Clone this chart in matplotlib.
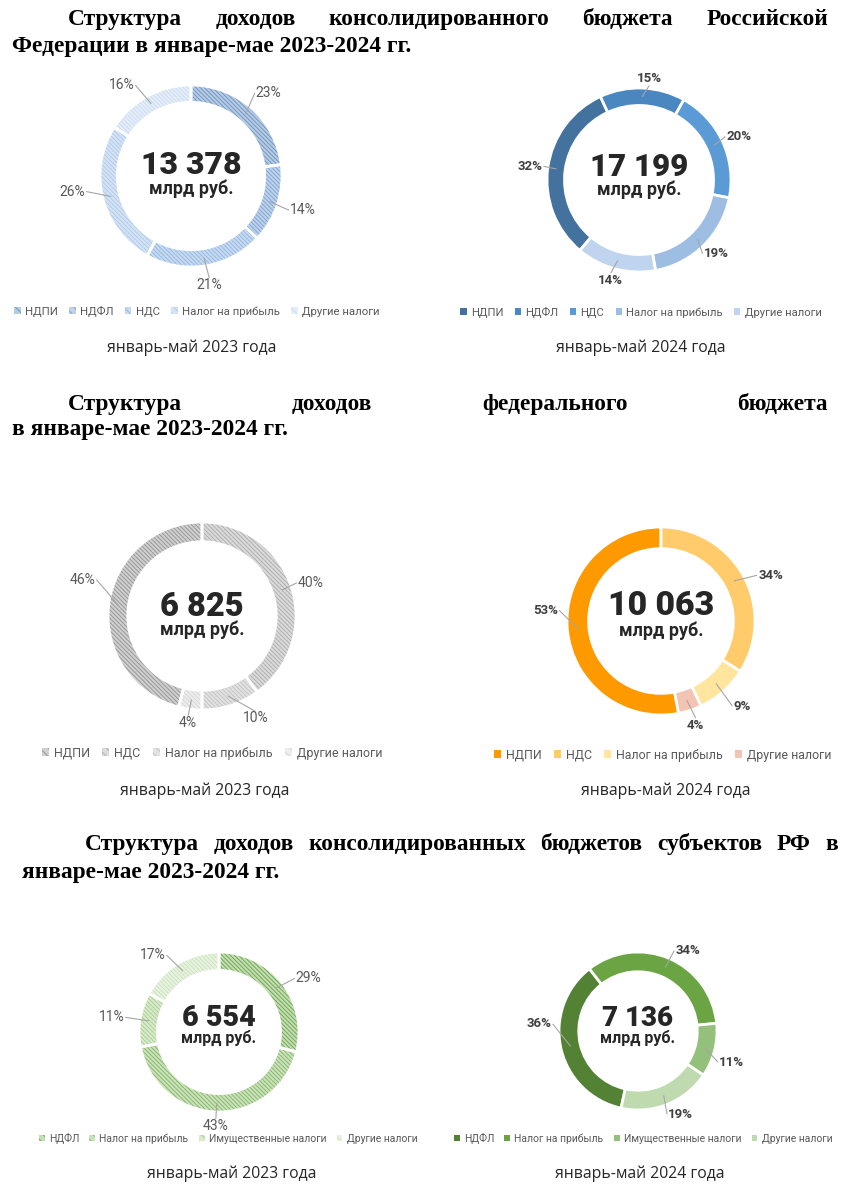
import matplotlib
matplotlib.use('Agg')
import matplotlib.pyplot as plt
from matplotlib.patches import Patch
import numpy as np

W, H = 848, 1200

# ---------------- data ----------------
legend_cons = ['НДПИ', 'НДФЛ', 'НДС', 'Налог на прибыль', 'Другие налоги']
cons_2023 = [23, 14, 21, 26, 16]
cons_2024 = [32, 15, 20, 19, 14]
total_cons_2023 = '13 378'
total_cons_2024 = '17 199'

legend_fed = ['НДПИ', 'НДС', 'Налог на прибыль', 'Другие налоги']
fed_2023 = [46, 40, 10, 4]
fed_2024 = [53, 34, 9, 4]
total_fed_2023 = '6 825'
total_fed_2024 = '10 063'

legend_reg = ['НДФЛ', 'Налог на прибыль', 'Имущественные налоги', 'Другие налоги']
reg_2023 = [29, 43, 11, 17]
reg_2024 = [36, 34, 11, 19]
total_reg_2023 = '6 554'
total_reg_2024 = '7 136'

unit_text = 'млрд руб.'
period_2023 = 'январь-май 2023 года'
period_2024 = 'январь-май 2024 года'

title1_l1 = 'Структура доходов консолидированного бюджета Российской'
title1_l2 = 'Федерации в январе-мае 2023-2024 гг.'
title2_l1 = 'Структура доходов федерального бюджета'
title2_l2 = 'в январе-мае 2023-2024 гг.'
title3_l1 = 'Структура доходов консолидированных бюджетов субъектов РФ в'
title3_l2 = 'январе-мае 2023-2024 гг.'

# ---------------- styles ----------------
plt.rcParams['hatch.linewidth'] = 0.6
plt.rcParams['font.family'] = ['Roboto', 'DejaVu Sans']

HATCH = '\\' * 8

blue_hatch_face = ['#b7cbe3', '#bfd2ea', '#c8daf0', '#d5e3f4', '#e4edf8']
blue_hatch_line = ['#6790c0', '#77a1d2', '#8db5e2', '#abc8ea', '#c9dbf0']
blue_solid = ['#44729e', '#4a86bf', '#5b9bd5', '#9dbde2', '#bfd4ee']

gray_hatch_face = ['#d0d0d0', '#dadada', '#e2e2e2', '#ededed']
gray_hatch_line = ['#909090', '#aaaaaa', '#c0c0c0', '#d5d5d5']
orange_solid = ['#ff9900', '#ffcb6b', '#ffe59d', '#f3c3b3']

green_hatch_face = ['#c4ddb3', '#cbe1bc', '#d9eacd', '#e8f2e1']
green_hatch_line = ['#66a348', '#7db560', '#a5cd8d', '#c9e1b9']
green_solid = ['#548235', '#6aa443', '#93c07a', '#c0dab0']

# label nudges in pixels (style only): chart id -> {slice index: (dx, dy)}
label_nudge = {
    'c23': {3: (-5, -12), 4: (-13, 6)},
    'c24': {1: (6, 2)},
    'f23': {0: (-6, -23), 2: (18, 0)},
    'f24': {0: (0, -21), 1: (8, 7), 2: (7, 3)},
    'r23': {0: (10, 4), 2: (-8, 0), 3: (-15, 4)},
    'r24': {0: (-5, -27), 1: (12, 2), 2: (0, 9), 3: (7, 0)},
}

fig = plt.figure(figsize=(W / 100, H / 100), dpi=100)
fig.patch.set_facecolor('white')


def fx(x):
    return x / W


def fy(y):
    return 1 - y / H


def justified(words_line, x0, x1, yb, fs):
    words = words_line.split(' ')
    texts = [fig.text(0, fy(yb), w, fontsize=fs, fontweight='bold',
                      family='Liberation Serif', va='baseline', ha='left',
                      color='#000000') for w in words]
    r = fig.canvas.get_renderer()
    widths = [t.get_window_extent(r).width for t in texts]
    gap = (x1 - x0 - sum(widths)) / (len(words) - 1)
    x = x0
    for t, w in zip(texts, widths):
        t.set_x(fx(x))
        x += w + gap


def plain(line, x0, yb, fs):
    fig.text(fx(x0), fy(yb), line, fontsize=fs, fontweight='bold',
             family='Liberation Serif', va='baseline', ha='left', color='#000000')


TFS = 16.8
justified(title1_l1, 68, 828, 25, TFS)
plain(title1_l2, 12, 52, TFS)
justified(title2_l1, 68, 828, 410, TFS)
plain(title2_l2, 12, 435, TFS)
justified(title3_l1, 85, 838, 850, TFS)
plain(title3_l2, 22, 878, TFS)


def donut(key, cx, cy, R, values, faces, hatch_lines, startangle, width, total,
          total_fs, unit_fs, total_y, unit_y, bold_labels, anchor_r):
    k = 1.6
    ax = fig.add_axes([fx(cx - R * k), fy(cy + R * k), 2 * R * k / W, 2 * R * k / H])
    if hatch_lines is not None:
        wedges, _ = ax.pie(values, colors=faces, startangle=startangle, counterclock=False,
                           radius=1, wedgeprops=dict(width=width, linewidth=0))
        for w, hc in zip(wedges, hatch_lines):
            w.set_edgecolor(hc)
            w.set_hatch(HATCH)
            w.set_linewidth(0)
        ax.pie(values, colors=['none'] * len(values), startangle=startangle,
               counterclock=False, radius=1,
               wedgeprops=dict(width=width, linewidth=2, edgecolor='white', fill=False))
    else:
        wedges, _ = ax.pie(values, colors=faces, startangle=startangle, counterclock=False,
                           radius=1, wedgeprops=dict(width=width, linewidth=2,
                                                     edgecolor='white'))
    ax.set_xlim(-k, k)
    ax.set_ylim(-k, k)
    ax.axis('off')
    rmid = 1 - width / 2
    fs = 9.5 if bold_labels else 10
    nud = label_nudge.get(key, {})
    for i, (w, v) in enumerate(zip(wedges, values)):
        a = np.deg2rad((w.theta1 + w.theta2) / 2)
        c, s = np.cos(a), np.sin(a)
        lw_px = 7.8 * len(str(v)) + 10
        lh_px = 12
        # label center in pixels relative to center (y up)
        lx = anchor_r * R * c + c * lw_px / 2
        ly = anchor_r * R * s + s * lh_px / 2
        dx, dy = nud.get(i, (0, 0))
        lx += dx
        ly -= dy
        # leader end: edge of label box facing the ring
        if abs(c) > 0.35:
            ex, ey = lx - np.sign(c) * (lw_px / 2 + 1), ly
        else:
            ex, ey = lx, ly - np.sign(s) * (lh_px / 2 + 1)
        ax.plot([rmid * c, ex / R], [rmid * s, ey / R], color='#a6a6a6', lw=0.8,
                solid_capstyle='butt')
        ax.text(lx / R, ly / R, f'{v}%', ha='center', va='center', fontsize=fs,
                fontweight='bold' if bold_labels else 'normal',
                color='#404040' if bold_labels else '#595959')
    fig.text(fx(cx), fy(total_y), total, ha='center', va='center', fontsize=total_fs,
             fontweight='black', color='#262626')
    fig.text(fx(cx), fy(unit_y), unit_text, ha='center', va='center', fontsize=unit_fs,
             fontweight='bold', color='#262626')


def legend(cx, cy, labels, faces, hatch_lines, fs):
    handles = []
    for i, lab in enumerate(labels):
        if hatch_lines is not None:
            handles.append(Patch(facecolor=faces[i], edgecolor=hatch_lines[i],
                                 hatch='\\\\\\\\', linewidth=0, label=lab))
        else:
            handles.append(Patch(facecolor=faces[i], linewidth=0, label=lab))
    fig.legend(handles=handles, loc='center', bbox_to_anchor=(fx(cx), fy(cy)),
               ncol=len(labels), frameon=False, fontsize=fs, handlelength=0.55,
               handleheight=0.55, handletextpad=0.4, columnspacing=1.0,
               labelcolor='#595959', borderpad=0, borderaxespad=0)


def caption(cx, cy, txt):
    fig.text(fx(cx), fy(cy), txt, ha='center', va='center', fontsize=11.3,
             family=['Open Sans', 'DejaVu Sans'], color='#262626')


# Section 1
donut('c23', 191, 176, 91, cons_2023, blue_hatch_face, blue_hatch_line, 90, 0.19,
      total_cons_2023, 23, 13, 165, 189, False, 1.15)
donut('c24', 639, 180, 92, cons_2024, blue_solid, None, 90 - 220, 0.19,
      total_cons_2024, 22.5, 13, 167, 190, True, 1.06)
legend(197, 311, legend_cons, blue_hatch_face, blue_hatch_line, 8.2)
legend(641, 312, legend_cons, blue_solid, None, 8.1)
caption(192, 348, period_2023)
caption(641, 348, period_2024)

# Section 2
donut('f23', 202, 616, 94, fed_2023, gray_hatch_face, gray_hatch_line, 90 - 194.4, 0.21,
      total_fed_2023, 23.5, 13, 607, 630, False, 1.08)
donut('f24', 661, 621, 94, fed_2024, orange_solid, None, 90 - 169.2, 0.23,
      total_fed_2024, 24.4, 13, 606, 631, True, 1.1)
legend(212, 753, legend_fed, gray_hatch_face, gray_hatch_line, 9.0)
legend(663, 755, legend_fed, orange_solid, None, 8.9)
caption(205, 791, period_2023)
caption(666, 791, period_2024)

# Section 3
donut('r23', 219, 1032, 80, reg_2023, green_hatch_face, green_hatch_line, 90, 0.23,
      total_reg_2023, 20.7, 11.5, 1018, 1038, False, 1.1)
donut('r24', 638, 1031, 79, reg_2024, green_solid, None, 90 - 192.4, 0.25,
      total_reg_2024, 20, 11.5, 1018, 1038, True, 1.06)
legend(228, 1138, legend_reg, green_hatch_face, green_hatch_line, 7.5)
legend(643, 1138, legend_reg, green_solid, None, 7.5)
caption(232, 1174, period_2023)
caption(640, 1174, period_2024)

fig.savefig('out.png', dpi=100, facecolor='white')
